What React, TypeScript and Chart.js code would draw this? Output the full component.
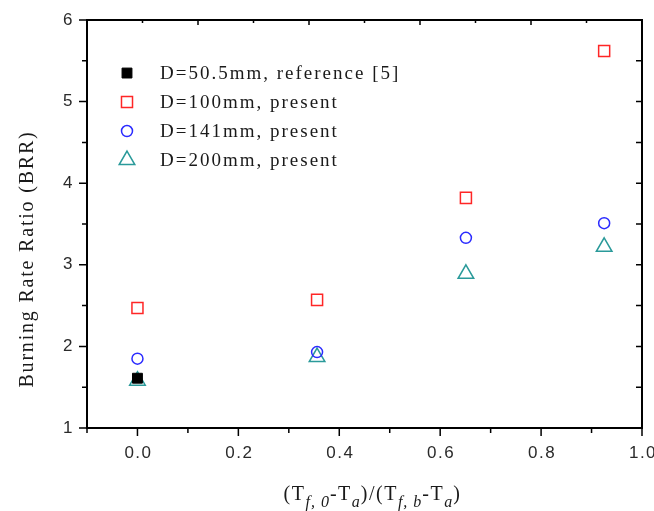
import React, { useEffect, useRef } from "react";
import { Chart, registerables } from "chart.js";

Chart.register(...registerables);

// ---- data ----
const X_VALUES = [0.0, 0.356, 0.651, 0.925];
const REF_X = [0.0];
const REF_Y = [1.61];
const D100 = [2.47, 2.57, 3.82, 5.62];
const D141 = [1.85, 1.93, 3.33, 3.51];
const D200 = [1.58, 1.87, 2.89, 3.22];

const SERIES_LABELS = [
  "D=50.5mm, reference [5]",
  "D=100mm, present",
  "D=141mm, present",
  "D=200mm, present",
];

const Y_TICKS = [1, 2, 3, 4, 5, 6];
const Y_MINOR = [1.5, 2.5, 3.5, 4.5, 5.5];
const X_TICKS = [0.0, 0.2, 0.4, 0.6, 0.8, 1.0];
const X_MINOR = [-0.1, 0.1, 0.3, 0.5, 0.7, 0.9];
const TOP_TICKS = [1, 2, 3, 4, 5, 6, 7, 8, 9];

const Y_TITLE = "Burning Rate Ratio (BRR)";

const SERIF = "'Liberation Serif', 'Times New Roman', serif";
const SANS = "'Liberation Sans', Arial, sans-serif";

function drawMarker(ctx: CanvasRenderingContext2D, style: string, x: number, y: number, r: number, fill: string, stroke: string, lw: number) {
  ctx.save();
  ctx.lineWidth = lw;
  ctx.strokeStyle = stroke;
  ctx.fillStyle = fill;
  ctx.beginPath();
  if (style === "rect") {
    const s = Math.SQRT1_2 * r;
    ctx.rect(x - s, y - s, 2 * s, 2 * s);
  } else if (style === "circle") {
    ctx.arc(x, y, r, 0, Math.PI * 2);
  } else if (style === "triangle") {
    const a = -Math.PI / 2;
    ctx.moveTo(x + Math.cos(a) * r, y + Math.sin(a) * r);
    ctx.lineTo(x + Math.cos(a + 2 * Math.PI / 3) * r, y + Math.sin(a + 2 * Math.PI / 3) * r);
    ctx.lineTo(x + Math.cos(a + 4 * Math.PI / 3) * r, y + Math.sin(a + 4 * Math.PI / 3) * r);
    ctx.closePath();
  }
  if (fill !== "transparent") ctx.fill();
  ctx.stroke();
  ctx.restore();
}

const framePlugin = {
  id: "frameAndText",
  afterDraw(chart: any) {
    const ctx: CanvasRenderingContext2D = chart.ctx;
    const ca = chart.chartArea;
    const xs = chart.scales.x;
    const ys = chart.scales.y;
    const x2 = chart.scales.x2;
    ctx.save();
    ctx.strokeStyle = "#000";
    ctx.lineWidth = 2;
    ctx.strokeRect(ca.left, ca.top, ca.right - ca.left, ca.bottom - ca.top);

    ctx.lineWidth = 1.5;
    ctx.beginPath();
    // left / right ticks
    for (const v of Y_TICKS) {
      const p = ys.getPixelForValue(v);
      ctx.moveTo(ca.left - 8, p); ctx.lineTo(ca.left, p);
      ctx.moveTo(ca.right, p); ctx.lineTo(ca.right - 6, p);
    }
    for (const v of Y_MINOR) {
      const p = ys.getPixelForValue(v);
      ctx.moveTo(ca.left - 5, p); ctx.lineTo(ca.left, p);
      ctx.moveTo(ca.right, p); ctx.lineTo(ca.right - 6, p);
    }
    // bottom ticks
    for (const v of X_TICKS) {
      const p = xs.getPixelForValue(v);
      ctx.moveTo(p, ca.bottom); ctx.lineTo(p, ca.bottom + 8);
    }
    for (const v of X_MINOR) {
      const p = xs.getPixelForValue(v);
      ctx.moveTo(p, ca.bottom); ctx.lineTo(p, ca.bottom + 5);
    }
    // top ticks
    for (const v of TOP_TICKS) {
      const p = x2.getPixelForValue(v);
      const len = v % 2 === 0 ? 5 : 3;
      ctx.moveTo(p, ca.top); ctx.lineTo(p, ca.top + len);
    }
    ctx.stroke();

    // tick labels
    ctx.fillStyle = "#2a2a2a";
    ctx.font = "17px " + SANS;
    (ctx as any).letterSpacing = "1.5px";
    ctx.textBaseline = "middle";
    ctx.textAlign = "right";
    for (const v of Y_TICKS) {
      ctx.fillText(String(v), ca.left - 13, ys.getPixelForValue(v));
    }
    ctx.textAlign = "center";
    for (const v of X_TICKS) {
      ctx.fillText(v.toFixed(1), xs.getPixelForValue(v) + 1, ca.bottom + 25);
    }

    // y title
    ctx.save();
    ctx.font = "20px " + SERIF;
    (ctx as any).letterSpacing = "1.8px";
    ctx.fillStyle = "#1a1a1a";
    ctx.translate(33, (ca.top + ca.bottom) / 2 + 35);
    ctx.rotate(-Math.PI / 2);
    ctx.textAlign = "center";
    ctx.textBaseline = "alphabetic";
    ctx.fillText(Y_TITLE, 0, 0);
    ctx.restore();

    // x title with subscripts
    const segs: [string, boolean][] = [
      ["(T", false], ["f, 0", true], ["-T", false], ["a", true],
      [")/(T", false], ["f, b", true], ["-T", false], ["a", true], [")", false],
    ];
    const mainFont = "20px " + SERIF;
    const subFont = "italic 16px " + SERIF;
    ctx.textAlign = "left";
    ctx.textBaseline = "alphabetic";
    ctx.fillStyle = "#1a1a1a";
    let total = 0;
    const widths: number[] = [];
    for (const [t, sub] of segs) {
      ctx.font = sub ? subFont : mainFont;
      (ctx as any).letterSpacing = sub ? "1px" : "1.5px";
      const w = ctx.measureText(t).width;
      widths.push(w);
      total += w;
    }
    let cx = (ca.left + ca.right) / 2 + 8 - total / 2;
    const base = 500;
    segs.forEach(([t, sub], i) => {
      ctx.font = sub ? subFont : mainFont;
      (ctx as any).letterSpacing = sub ? "1px" : "1.5px";
      ctx.fillText(t, cx, sub ? base + 7 : base);
      cx += widths[i];
    });

    // legend
    const ds = chart.data.datasets;
    ctx.font = "19px " + SERIF;
    (ctx as any).letterSpacing = "2px";
    ctx.textBaseline = "middle";
    ctx.textAlign = "left";
    const rowY0 = ys.getPixelForValue(5.35);
    const rowStep = 29;
    ds.forEach((d: any, i: number) => {
      const yy = rowY0 + i * rowStep;
      drawMarker(ctx, d.pointStyle, 127, yy, d.legendRadius, d.pointBackgroundColor, d.pointBorderColor, d.pointBorderWidth);
      ctx.fillStyle = "#1a1a1a";
      ctx.fillText(d.label, 160, yy + 1);
    });
    ctx.restore();
  },
};

export default function App() {
  const ref = useRef<HTMLCanvasElement | null>(null);
  useEffect(() => {
    if (!ref.current) return;
    const mk = (xv: number[], yv: number[]) => yv.map((v, i) => ({ x: xv[i], y: v }));
    const chart = new Chart(ref.current, {
      type: "scatter",
      data: {
        datasets: [
          {
            label: SERIES_LABELS[0],
            data: mk(REF_X, REF_Y),
            pointStyle: "rect",
            pointRadius: 7,
            pointBackgroundColor: "#000",
            pointBorderColor: "#000",
            pointBorderWidth: 1,
            legendRadius: 7,
          } as any,
          {
            label: SERIES_LABELS[1],
            data: mk(X_VALUES, D100),
            pointStyle: "rect",
            pointRadius: 7.8,
            pointBackgroundColor: "transparent",
            pointBorderColor: "#ff2626",
            pointBorderWidth: 1.5,
            legendRadius: 7.8,
          } as any,
          {
            label: SERIES_LABELS[2],
            data: mk(X_VALUES, D141),
            pointStyle: "circle",
            pointRadius: 5.5,
            pointBackgroundColor: "transparent",
            pointBorderColor: "#2b2bff",
            pointBorderWidth: 1.5,
            legendRadius: 5.5,
          } as any,
          {
            label: SERIES_LABELS[3],
            data: mk(X_VALUES, D200),
            pointStyle: "triangle",
            pointRadius: 9,
            pointBackgroundColor: "transparent",
            pointBorderColor: "#2a9a9a",
            pointBorderWidth: 1.5,
            legendRadius: 9,
          } as any,
        ],
      },
      options: {
        animation: false,
        responsive: false,
        maintainAspectRatio: false,
        devicePixelRatio: 1,
        layout: { padding: { top: 20, right: 12, left: 0, bottom: 0 } },
        plugins: { legend: { display: false }, tooltip: { enabled: false } },
        scales: {
          x: {
            type: "linear",
            position: "bottom",
            min: -0.1,
            max: 1.0,
            grid: { display: false },
            border: { display: false },
            ticks: { display: false },
            afterFit: (s: any) => { s.height = 83; },
          },
          x2: {
            type: "linear",
            position: "top",
            min: 0,
            max: 10,
            display: false,
          },
          y: {
            type: "linear",
            min: 1,
            max: 6,
            grid: { display: false },
            border: { display: false },
            ticks: { display: false },
            afterFit: (s: any) => { s.width = 87; },
          },
        },
      } as any,
      plugins: [framePlugin],
    });
    return () => chart.destroy();
  }, []);
  return (
    <div style={{ position: "fixed", left: 0, top: 0, width: 654, height: 511, background: "#fff" }}>
      <canvas ref={ref} width={654} height={511} style={{ width: 654, height: 511 }} />
    </div>
  );
}
